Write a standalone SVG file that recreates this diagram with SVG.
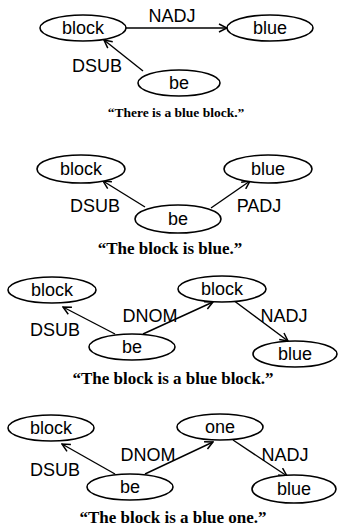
<svg xmlns="http://www.w3.org/2000/svg" width="338" height="527" viewBox="0 0 338 527">
  <style>
    .node ellipse { fill: #fff; stroke: #000; stroke-width: 1.6; }
    .node text { font-family: "Liberation Sans", Arial, sans-serif; font-size: 18px; text-anchor: middle; fill: #000; }
    .edge line { stroke: #000; stroke-width: 1.4; marker-end: url(#vee); }
    .lbl { font-family: "Liberation Sans", Arial, sans-serif; font-size: 18px; fill: #000; text-anchor: middle; }
    .cap { font-family: "Liberation Serif", "Times New Roman", serif; font-weight: bold; font-size: 17px; fill: #000; text-anchor: middle; }
    .cap.small { font-size: 13.5px; }
  </style>
  <defs>
    <marker id="vee" viewBox="-9 -5 10 10" refX="0" refY="0" markerWidth="10" markerHeight="10" markerUnits="userSpaceOnUse" orient="auto">
      <path d="M-8,-4 L0,0 L-8,4" fill="none" stroke="#000" stroke-width="1.5"/>
    </marker>
  </defs>

  <rect width="338" height="527" fill="#fff"/>

  <!-- Graph 1: There is a blue block -->
  <g id="edges1" class="edge">
    <line x1="126" y1="28" x2="227" y2="28"/>
    <line x1="143" y1="71" x2="104" y2="40"/>
  </g>
  <g id="g1-block" class="node"><ellipse cx="83" cy="28" rx="43" ry="13"/><text x="83" y="34">block</text></g>
  <g id="g1-blue" class="node"><ellipse cx="270" cy="28" rx="43" ry="13"/><text x="270" y="34">blue</text></g>
  <g id="g1-be" class="node"><ellipse cx="179" cy="83" rx="41" ry="13"/><text x="179" y="89">be</text></g>
  <text class="lbl" x="172" y="22">NADJ</text>
  <text class="lbl" x="97" y="72">DSUB</text>
  <text class="cap small" x="176" y="117">“There is a blue block.”</text>

  <!-- Graph 2: The block is blue -->
  <g id="edges2" class="edge">
    <line x1="145" y1="207" x2="103" y2="181"/>
    <line x1="211" y1="208" x2="250" y2="181"/>
  </g>
  <g id="g2-block" class="node"><ellipse cx="81" cy="169" rx="44" ry="14"/><text x="81" y="175">block</text></g>
  <g id="g2-blue" class="node"><ellipse cx="268" cy="169" rx="44" ry="14"/><text x="268" y="175">blue</text></g>
  <g id="g2-be" class="node"><ellipse cx="178" cy="219" rx="43" ry="14"/><text x="178" y="225">be</text></g>
  <text class="lbl" x="95" y="212">DSUB</text>
  <text class="lbl" x="259" y="212">PADJ</text>
  <text class="cap" x="170" y="254">“The block is blue.”</text>

  <!-- Graph 3: The block is a blue block -->
  <g id="edges3" class="edge">
    <line x1="115" y1="334" x2="63" y2="307"/>
    <line x1="143" y1="334" x2="213" y2="302"/>
    <line x1="233" y1="300" x2="288" y2="341"/>
  </g>
  <g id="g3-block" class="node"><ellipse cx="52" cy="290" rx="44" ry="13"/><text x="52" y="296">block</text></g>
  <g id="g3-block2" class="node"><ellipse cx="222" cy="289" rx="44" ry="13"/><text x="222" y="295">block</text></g>
  <g id="g3-be" class="node"><ellipse cx="132" cy="347" rx="43" ry="13"/><text x="132" y="353">be</text></g>
  <g id="g3-blue" class="node"><ellipse cx="295" cy="354" rx="42" ry="13"/><text x="295" y="360">blue</text></g>
  <text class="lbl" x="150" y="322">DNOM</text>
  <text class="lbl" x="284" y="322">NADJ</text>
  <text class="lbl" x="55" y="336">DSUB</text>
  <text class="cap" x="173" y="384">“The block is a blue block.”</text>

  <!-- Graph 4: The block is a blue one -->
  <g id="edges4" class="edge">
    <line x1="115" y1="474" x2="62" y2="444"/>
    <line x1="145" y1="474" x2="213" y2="442"/>
    <line x1="233" y1="440" x2="287" y2="476"/>
  </g>
  <g id="g4-block" class="node"><ellipse cx="51" cy="428" rx="43" ry="13"/><text x="51" y="434">block</text></g>
  <g id="g4-one" class="node"><ellipse cx="220" cy="427" rx="43" ry="13"/><text x="220" y="433">one</text></g>
  <g id="g4-be" class="node"><ellipse cx="130" cy="487" rx="43" ry="13"/><text x="130" y="493">be</text></g>
  <g id="g4-blue" class="node"><ellipse cx="294" cy="489" rx="42" ry="14"/><text x="294" y="495">blue</text></g>
  <text class="lbl" x="148" y="461">DNOM</text>
  <text class="lbl" x="285" y="461">NADJ</text>
  <text class="lbl" x="55" y="476">DSUB</text>
  <text class="cap" x="173" y="523">“The block is a blue one.”</text>
</svg>
